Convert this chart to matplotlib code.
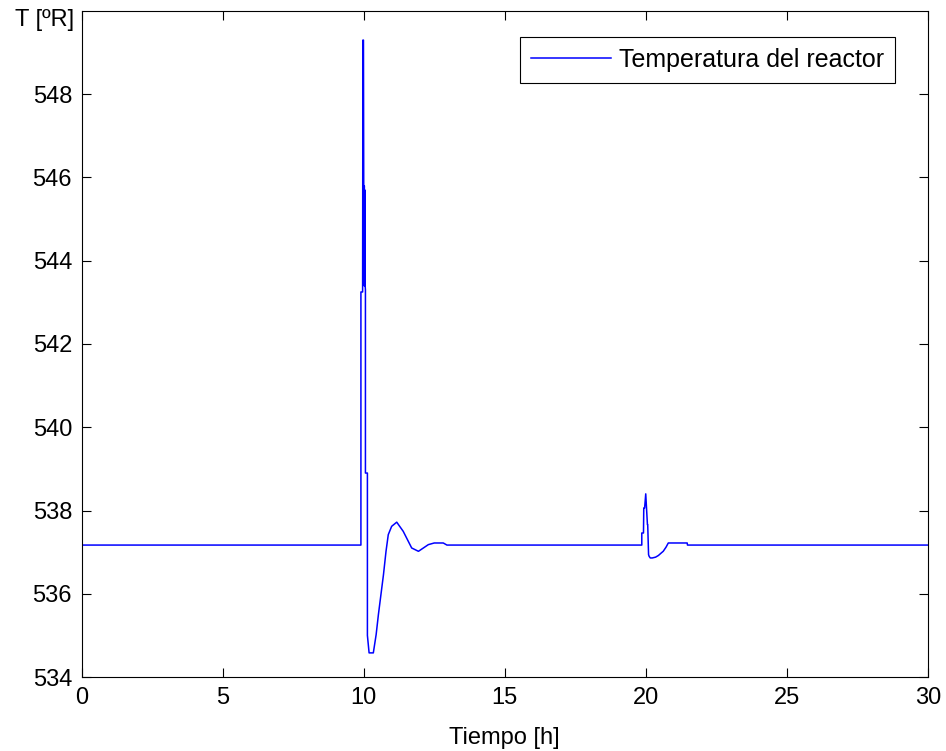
import matplotlib
matplotlib.use("Agg")
import matplotlib.pyplot as plt

plt.rcParams["font.family"] = ["Liberation Sans", "DejaVu Sans"]

# reactor temperature response, time in hours
t_h = [0.0, 9.90, 9.90, 9.96, 9.97, 9.99, 10.00, 10.01, 10.02, 10.03, 10.04, 10.05, 10.06,
       10.06, 10.13, 10.13, 10.19, 10.34, 10.44, 10.52, 10.61, 10.70, 10.79, 10.87, 10.99,
       11.17, 11.40, 11.70, 11.94, 12.29, 12.50, 12.82, 12.95,
       19.86, 19.86, 19.92, 19.93, 19.96, 20.00, 20.06, 20.07, 20.10, 20.12, 20.16, 20.23,
       20.35, 20.45, 20.55, 20.62, 20.72, 20.80, 21.47, 21.48, 30.0]
temp_R = [537.17, 537.17, 543.25, 543.25, 549.30, 549.30, 545.80, 543.40, 545.80, 543.40,
          545.70, 543.40, 543.30,
          538.90, 538.90, 535.00, 534.58, 534.58, 535.02, 535.50, 535.98, 536.46, 537.02,
          537.42, 537.62, 537.72, 537.50, 537.10, 537.02, 537.18, 537.22, 537.22, 537.17,
          537.17, 537.46, 537.46, 538.06, 538.06, 538.40, 537.66, 537.66, 536.94, 536.90,
          536.86, 536.86, 536.88, 536.92, 536.98, 537.02, 537.12, 537.22, 537.22, 537.17, 537.17]

x_ticks = [0, 5, 10, 15, 20, 25, 30]
y_ticks = [534, 536, 538, 540, 542, 544, 546, 548]

fig = plt.figure(figsize=(9.46, 7.51), dpi=100)
ax = fig.add_axes([0.0864, 0.0985, 0.8943, 0.8869])

ax.plot(t_h, temp_R, color="#0000ff", linewidth=1.1, label="Temperatura del reactor")

ax.set_xlim(0, 30)
ax.set_ylim(534, 550)
ax.set_xticks(x_ticks)
ax.set_yticks(y_ticks)
ax.tick_params(direction="in", length=6.2, width=0.8, top=True, right=True,
               labelsize=17, pad=7, colors="black")
for s in ax.spines.values():
    s.set_linewidth(0.8)
    s.set_color("black")

leg = ax.legend(loc="upper right", bbox_to_anchor=(0.9615, 0.961), fontsize=18,
                frameon=True, fancybox=False, framealpha=1, edgecolor="black",
                handlelength=3.2, handletextpad=0.3, borderpad=0.45, borderaxespad=0)
leg.get_frame().set_linewidth(0.8)

fig.text(0.0782, 0.973, "T [ºR]", ha="right", va="center", fontsize=17)
fig.text(0.5335, 0.0093, "Tiempo [h]", ha="center", va="baseline", fontsize=17)

fig.savefig("out.png", dpi=100)
